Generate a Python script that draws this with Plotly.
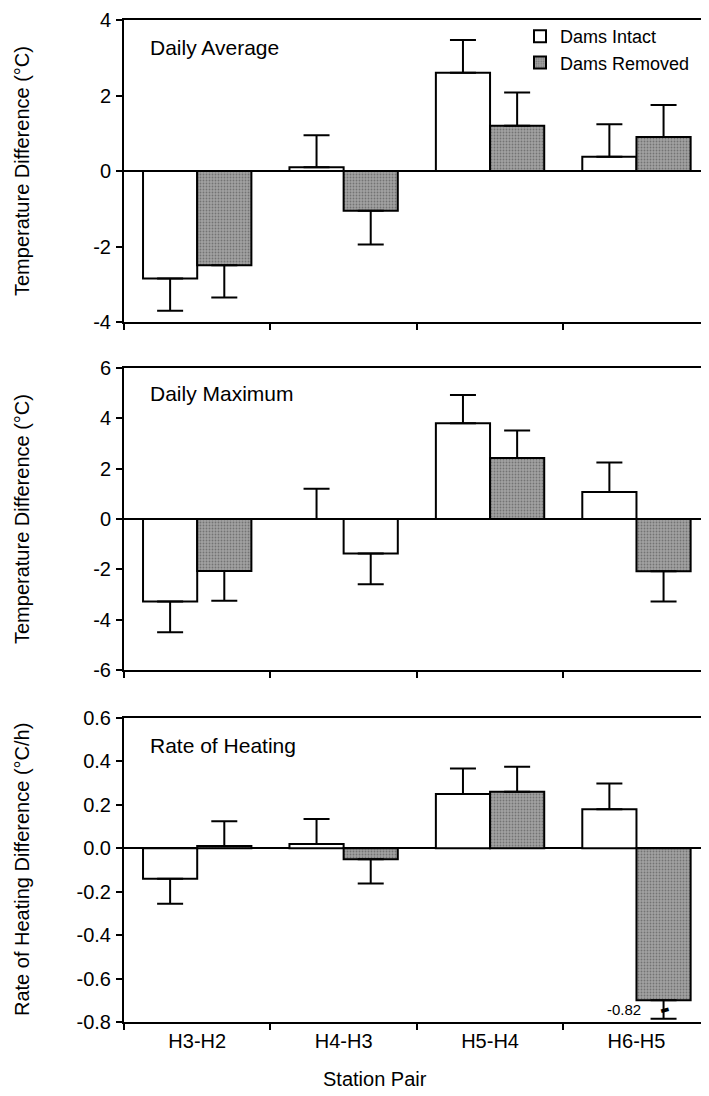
import plotly.graph_objects as go

# ---------------- data ----------------
categories = ["H3-H2", "H4-H3", "H5-H4", "H6-H5"]
series_names = ["Dams Intact", "Dams Removed"]

avg_intact = [-2.85, 0.10, 2.60, 0.38]
avg_intact_err = [0.85, 0.85, 0.87, 0.86]
avg_removed = [-2.50, -1.05, 1.20, 0.90]
avg_removed_err = [0.85, 0.90, 0.88, 0.85]

max_intact = [-3.28, 0.00, 3.80, 1.07]
max_intact_err = [1.22, 1.20, 1.13, 1.18]
max_removed = [-2.07, -1.37, 2.42, -2.08]
max_removed_err = [1.18, 1.22, 1.10, 1.20]

rate_intact = [-0.14, 0.02, 0.25, 0.18]
rate_intact_err = [0.115, 0.115, 0.117, 0.118]
# H6-H5 bar is drawn truncated (broken bar); true value given by label
rate_removed = [0.01, -0.05, 0.26, -0.70]
rate_removed_err = [0.115, 0.112, 0.115, 0.085]
rate_removed_true_label = "-0.82"

panel_labels = ["Daily Average", "Daily Maximum", "Rate of Heating"]
y_titles = ["Temperature Difference (°C)", "Temperature Difference (°C)",
            "Rate of Heating Difference (°C/h)"]

avg_ticks = [-4, -2, 0, 2, 4]
avg_ticktext = ["-4", "-2", "0", "2", "4"]
max_ticks = [-6, -4, -2, 0, 2, 4, 6]
max_ticktext = ["-6", "-4", "-2", "0", "2", "4", "6"]
rate_ticks = [-0.8, -0.6, -0.4, -0.2, 0.0, 0.2, 0.4, 0.6]
rate_ticktext = ["-0.8", "-0.6", "-0.4", "-0.2", "0.0", "0.2", "0.4", "0.6"]

x_title = "Station Pair"

# ---------------- style ----------------
FONT = "Liberation Sans, Arial, Helvetica, sans-serif"
GREY = "#a2a2a2"
WHITE = "#ffffff"
# in the original Daily Maximum panel, the H4-H3 "removed" bar is printed unshaded
removed_unshaded = {1: [1]}

OFF = 8  # page body margin offset of the html page
W, H = 709, 1096
ML = 124 - OFF
MR = 0
MT = 20 - OFF
MB = H - (1022 - OFF)
plot_h = H - MT - MB
plot_w = W - ML - MR


def ydom(top_px, bot_px):
    top_px -= OFF
    bot_px -= OFF
    return [(H - MB - bot_px) / plot_h, (H - MB - top_px) / plot_h]


def xpaper(screen_px):
    return (screen_px - OFF - ML) / plot_w


def ypaper(screen_px):
    return (H - MB - (screen_px - OFF)) / plot_h


domains = [ydom(20, 322), ydom(368, 670), ydom(718, 1022)]

panels = [
    (avg_intact, avg_intact_err, avg_removed, avg_removed_err, [-4, 4], avg_ticks, avg_ticktext),
    (max_intact, max_intact_err, max_removed, max_removed_err, [-6, 6], max_ticks, max_ticktext),
    (rate_intact, rate_intact_err, rate_removed, rate_removed_err, [-0.8, 0.6], rate_ticks, rate_ticktext),
]


def split_err(vals, errs):
    plus = [e if v >= 0 else 0 for v, e in zip(vals, errs)]
    minus = [e if v < 0 else 0 for v, e in zip(vals, errs)]
    return plus, minus


fig = go.Figure()
for p, (vi, ei, vr, er, rng, tv, tt) in enumerate(panels):
    xa = "x" if p == 0 else f"x{p+1}"
    ya = "y" if p == 0 else f"y{p+1}"
    for s, (vals, errs) in enumerate([(vi, ei), (vr, er)]):
        plus, minus = split_err(vals, errs)
        if s == 0:
            marker = dict(color=WHITE, line=dict(color="black", width=2))
        else:
            unsh = removed_unshaded.get(p, [])
            colors = [WHITE if i in unsh else GREY for i in range(len(vals))]
            shapes = ["" if i in unsh else "." for i in range(len(vals))]
            marker = dict(color=colors, line=dict(color="black", width=2),
                          pattern=dict(shape=shapes, fgcolor="#4a4a4a",
                                       size=3, solidity=0.3, fillmode="overlay"))
        fig.add_trace(go.Bar(
            x=categories, y=vals, name=series_names[s],
            xaxis=xa, yaxis=ya,
            showlegend=(p == 0),
            marker=marker,
            error_y=dict(type="data", symmetric=False, array=plus, arrayminus=minus,
                         color="black", thickness=2, width=13),
        ))

layout = dict(
    width=W, height=H,
    margin=dict(l=ML, r=MR, t=MT, b=MB, autoexpand=False),
    paper_bgcolor="white", plot_bgcolor="white",
    barmode="group", bargap=0.26, bargroupgap=0.0,
    font=dict(family=FONT, size=19, color="black"),
    legend=dict(x=xpaper(520), y=ypaper(18), xanchor="left", yanchor="top",
                font=dict(size=18, family=FONT), bgcolor="rgba(0,0,0,0)",
                tracegroupgap=0, itemwidth=30),
    annotations=[],
)

for p in range(3):
    xkey = "xaxis" if p == 0 else f"xaxis{p+1}"
    ykey = "yaxis" if p == 0 else f"yaxis{p+1}"
    xa = "x" if p == 0 else f"x{p+1}"
    ya = "y" if p == 0 else f"y{p+1}"
    rng, tv, tt = panels[p][4], panels[p][5], panels[p][6]
    layout[xkey] = dict(
        domain=[0, 1], anchor=ya, type="category",
        categoryorder="array", categoryarray=categories,
        range=[-0.5, 3.55],
        showline=True, linecolor="black", linewidth=2, mirror=True,
        ticks="outside", tickson="boundaries", ticklen=6, tickwidth=2, tickcolor="black",
        showticklabels=(p == 2), tickfont=dict(size=20, family=FONT),
        showgrid=False, zeroline=False,
    )
    layout[ykey] = dict(
        domain=domains[p], anchor=xa, range=rng,
        tickvals=tv, ticktext=tt,
        showline=True, linecolor="black", linewidth=2,
        ticks="outside", ticklen=6, tickwidth=2, tickcolor="black",
        tickfont=dict(size=20, family=FONT), ticklabelstandoff=1,
        showgrid=False, zeroline=True, zerolinecolor="black", zerolinewidth=2,
    )
    layout["annotations"].append(dict(
        text=y_titles[p], textangle=-90, xref="paper", yref=f"{ya} domain",
        x=xpaper(22), y=0.5, xanchor="center", yanchor="middle",
        showarrow=False, font=dict(size=20, family=FONT)))
    label_y = [0.91, 0.917, 0.911][p]
    layout["annotations"].append(dict(
        text=panel_labels[p], xref="paper", yref=f"{ya} domain",
        x=xpaper(148), y=label_y, xanchor="left", yanchor="middle",
        showarrow=False, font=dict(size=21, family=FONT)))

layout["annotations"].append(dict(
    text=x_title, xref="paper", yref="paper",
    x=xpaper(375), y=ypaper(1079),
    xanchor="center", yanchor="middle", showarrow=False, font=dict(size=20, family=FONT)))

# label and break mark for truncated bar
layout["annotations"].append(dict(
    text=rate_removed_true_label, xref="x3", yref="y3",
    x=categories[3], y=rate_removed[3] - rate_removed_err[3] / 2,
    xshift=-12, xanchor="center", yanchor="middle", showarrow=False,
    font=dict(size=15, family=FONT)))
layout["annotations"].append(dict(
    text="▬", xref="x3", yref="y3",
    x=categories[3], y=rate_removed[3] - rate_removed_err[3] / 2,
    xshift=28, xanchor="center", yanchor="middle", showarrow=False, textangle=-15,
    font=dict(size=10, family="DejaVu Sans")))

fig.update_layout(**layout)
fig.write_html("out.html")
